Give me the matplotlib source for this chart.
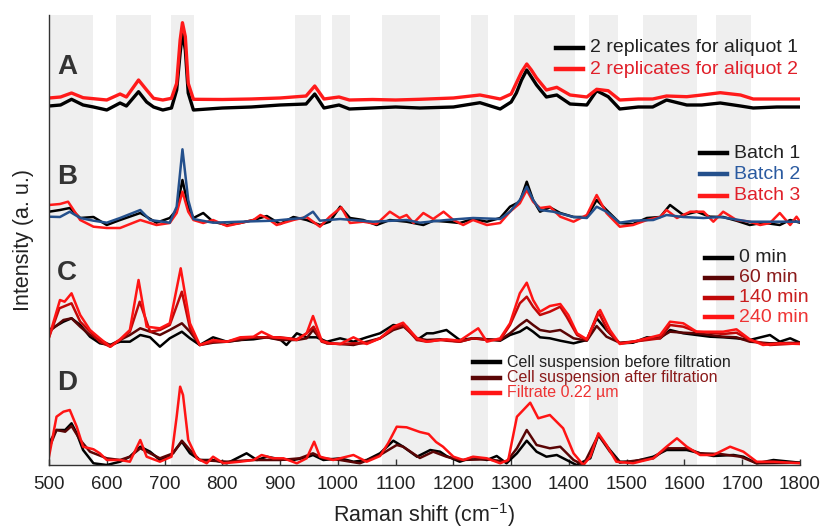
import numpy as np
import matplotlib
matplotlib.use('Agg')
import matplotlib.pyplot as plt
from matplotlib.lines import Line2D

plt.rcParams['font.family'] = ['Liberation Sans', 'DejaVu Sans']
plt.rcParams['mathtext.fontset'] = 'custom'
plt.rcParams['mathtext.rm'] = 'Liberation Sans'
plt.rcParams['mathtext.default'] = 'regular'

# grey marker bands (Raman shift, cm-1)
band_start = [500, 616, 711, 926, 990, 1076, 1230, 1305, 1435, 1529, 1655]
band_end = [577, 676, 751, 971, 1021, 1176, 1260, 1410, 1485, 1621, 1716]

# A: aliquot replicates
a_x = [500, 520, 539, 559, 577, 600, 623, 634, 655, 669, 681, 697, 712, 721, 727, 731, 736, 741, 750, 800,
       850, 900, 945, 960, 976, 1002, 1020, 1060, 1100, 1142, 1200, 1246, 1281, 1300, 1309, 1318, 1327, 1335, 1344, 1361,
       1379, 1402, 1431, 1448, 1468, 1488, 1520, 1545, 1569, 1604, 1630, 1662, 1697, 1719, 1760, 1800]
a_aliquot1 = [4, 5, 10.7, 5, 3, 0, 7, 4, 18.3, 8, 3, 0, 2, 20, 57, 78, 60, 17, 0, 2,
              3, 5, 6, 16, 2, 5, 1, 2, 3, 2, 3, 7.3, 1, 8, 17, 30, 40, 33, 25, 13,
              15, 6, 5, 19.3, 13.3, 1, 3, 3, 10, 5, 5, 7, 4, 2, 3, 3]
a_aliquot2 = [12, 13, 17, 12.3, 11.3, 10, 16, 13, 30, 20, 11.7, 10, 11.7, 26.7, 70, 87.3, 73.3, 26.7, 10.7, 10.5,
              11, 12, 14, 24, 11, 13, 10, 10.5, 10, 10.7, 12, 15, 11, 16, 27, 38, 46, 40, 32, 20,
              22.7, 15, 13, 20.7, 19.3, 10, 11, 11, 14, 13.3, 15, 17.3, 15, 11, 11, 11]

# B: batches
b1_x = [500, 519, 536, 554, 577, 600, 623, 658, 686, 709, 721, 731, 741, 750, 767, 784, 808, 831, 854, 877,
        900, 923, 946, 969, 986, 1004, 1021, 1044, 1067, 1090, 1119, 1148, 1165, 1188, 1211, 1234, 1258, 1281, 1298, 1315,
        1327, 1338, 1350, 1367, 1385, 1408, 1431, 1448, 1465, 1488, 1511, 1535, 1558, 1575, 1598, 1621, 1644, 1667, 1690, 1713,
        1736, 1765, 1783, 1800]
b1_y = [13.3, 15, 17, 7, 8, 0, 5, 12, 2.3, 7, 15, 45, 18.3, 7, 12, 3.3, 0, 2, 5, 9,
        1, 8, 5, 0, 3.3, 18.3, 7, 5, 0, 5, 3.3, 0, 4.3, 3.3, 2, 6, 3.3, 7, 18.3, 23.3,
        43.3, 25, 13.3, 17.7, 12, 8, 8, 25, 15, 2, 1, 7, 8, 20, 10, 13.3, 8.3, 8, 4.3, 0,
        2.3, 0, 5, 2.3]
b2_x = [500, 519, 536, 554, 577, 600, 623, 658, 675, 709, 721, 731, 741, 750, 784, 831, 888, 940, 957, 969,
        1004, 1061, 1119, 1142, 1188, 1234, 1281, 1298, 1315, 1327, 1338, 1350, 1373, 1408, 1431, 1448, 1465, 1488, 1511, 1546,
        1569, 1598, 1633, 1662, 1713, 1765, 1800]
b2_y = [8.3, 8, 13.3, 7, 4.3, 2.3, 7, 15, 5, 2.3, 18.3, 75.7, 25, 6, 2.3, 3.3, 4.3, 7, 13.3, 4.3,
        6, 3.3, 5, 2.3, 5, 7, 6, 13.3, 25, 38.3, 25, 15, 13.3, 8, 7, 18.3, 13.3, 2.3, 4.3, 5,
        10, 8, 7, 8, 3.3, 3.3, 3.3]
b3_x = [500, 519, 533, 554, 577, 600, 623, 658, 686, 709, 721, 731, 741, 750, 767, 784, 808, 831, 854, 866,
        877, 894, 923, 946, 969, 986, 1006, 1021, 1044, 1067, 1090, 1107, 1119, 1131, 1148, 1165, 1183, 1200, 1217, 1234,
        1258, 1281, 1298, 1315, 1327, 1338, 1350, 1367, 1385, 1408, 1431, 1448, 1465, 1488, 1511, 1535, 1558, 1569, 1587, 1610,
        1633, 1650, 1667, 1690, 1713, 1731, 1748, 1765, 1783, 1794, 1800]
b3_y = [20, 21, 23.3, 5, -1.7, -3, -3, 5, 0, 2, 12, 33.3, 13.3, 5, 2, 5, -1, 2, 5, 10,
        7, 0, 5, 8, -1.7, 8.3, 17.7, 2, 3.3, 1, 13.3, 7, 10, 2, 12, 6, 13.3, 5, 0, 5,
        0, 2, 13.3, 21.7, 35, 23.3, 17, 18.3, 8.3, 3.3, 10, 30, 12, -1.7, 0, 5, 8, 15, 7, 13.3,
        13.3, 3.3, 13.3, 5, 3.3, 0, 2, 12, 0, 8.3, 3.3]

# C: time course
c0_x = [500, 525, 539, 554, 571, 588, 606, 623, 640, 658, 675, 692, 709, 730, 744, 761, 784, 808, 831, 854,
        877, 900, 911, 929, 946, 963, 981, 1004, 1027, 1050, 1073, 1096, 1119, 1137, 1154, 1165, 1188, 1211, 1234, 1258,
        1281, 1298, 1315, 1327, 1338, 1350, 1367, 1385, 1408, 1431, 1448, 1465, 1488, 1511, 1535, 1558, 1575, 1598, 1621, 1644,
        1667, 1690, 1713, 1748, 1765, 1783, 1800]
c0_y = [15, 23.3, 26.7, 20, 8.3, 1.7, 0, 3.3, 3.3, 10, 7.7, -1.7, 6.7, 13.3, 6.7, 0, 7.7, 3.3, 5, 5.7,
        7.7, 5.7, 0, 11.7, 7.7, 7.7, 3.3, 6.7, 3.3, 7.7, 11.7, 20, 18.3, 5, 11.7, 11.7, 15, 5, 6.7, 5.7,
        4.3, 10, 13.3, 17.7, 13.3, 7.7, 6.7, 4.3, 1.7, 5, 26.7, 15, 1.7, 2.3, 7.7, 6.7, 15, 11.7, 10, 8.3,
        7.7, 6.7, 5, 10, 3.3, 6.7, 2.3]
c60_x = [500, 525, 539, 554, 571, 588, 606, 623, 640, 658, 675, 692, 709, 730, 744, 761, 784, 808, 831, 854,
         877, 900, 929, 946, 957, 969, 981, 1004, 1027, 1050, 1073, 1096, 1114, 1137, 1154, 1177, 1188, 1211, 1234, 1258,
         1281, 1298, 1315, 1327, 1338, 1350, 1367, 1385, 1408, 1431, 1448, 1465, 1488, 1511, 1535, 1558, 1575, 1598, 1621, 1644,
         1667, 1690, 1713, 1748, 1800]
c60_y = [13.3, 25, 26.7, 18.3, 10, 5, 0, 5, 10, 16.7, 13.3, 10, 15, 21.7, 13.3, 0, 2.3, 3.3, 5, 7.7,
         7.7, 5, 5, 6.7, 15, 6.7, 1.7, 1, 0, 3.3, 6.7, 15, 18.3, 6.7, 5, 5.7, 5, 3.3, 6.7, 5.7,
         5, 11.7, 20, 25, 20, 15, 13.3, 15, 6.7, 4.3, 19, 8.3, 2.3, 3.3, 5.7, 7.7, 13.3, 12.3, 11.7, 10,
         8.3, 7.7, 3.3, 1.7, 2.3]
c140_x = [500, 518, 539, 554, 571, 588, 606, 623, 640, 657, 675, 692, 709, 730, 744, 761, 784, 808, 831, 854,
          877, 900, 929, 946, 958, 972, 981, 1004, 1027, 1050, 1073, 1096, 1113, 1137, 1154, 1177, 1188, 1211, 1234, 1258,
          1281, 1298, 1315, 1327, 1338, 1350, 1367, 1385, 1396, 1414, 1431, 1451, 1468, 1488, 1511, 1535, 1558, 1575, 1598, 1621,
          1644, 1667, 1690, 1713, 1748, 1800]
c140_y = [7.7, 36.7, 41.7, 23.3, 13.3, 3.3, -1.7, 5, 13.3, 43.3, 13.3, 15, 20, 53.3, 16.7, 0, 3.3, 3.3, 6.7, 7.7,
          7.7, 7.7, 5.7, 11.7, 18.3, 3.3, 1.7, 1, 1.7, 1.7, 6.7, 16.7, 20, 5, 3.3, 5, 4.3, 3.3, 6.7, 5,
          5, 20, 41.7, 48.3, 38.3, 30, 33.3, 38.3, 28.3, 10, 5, 33.3, 13.3, 1.7, 3.3, 5, 6.7, 20, 18.3, 13.3,
          12.3, 11, 12.3, 5, 0, 1.7]
c240_x = [500, 519, 527, 539, 554, 571, 588, 606, 623, 640, 655, 669, 692, 709, 728, 744, 761, 784, 808, 831,
          854, 868, 888, 911, 929, 946, 957, 972, 986, 1004, 1027, 1050, 1073, 1096, 1113, 1137, 1154, 1177, 1188, 1211,
          1243, 1258, 1281, 1298, 1315, 1327, 1338, 1350, 1367, 1385, 1399, 1414, 1431, 1454, 1471, 1488, 1511, 1535, 1558, 1575,
          1598, 1621, 1644, 1667, 1690, 1713, 1736, 1765, 1800]
c240_y = [7.7, 45, 43.3, 51.7, 30, 15, 6.7, -1.7, 5.7, 15, 65, 18.3, 16.7, 21.7, 76.7, 21.7, 0, 5, 3.3, 7.7,
          8.3, 13.3, 7.7, 6.7, 5, 11.7, 29, 4.3, 1.7, 1, 7.7, 1, 6.7, 18.3, 22.3, 6.7, 3.3, 5, 5.7, 4.3,
          16.7, 3.3, 6.7, 21.7, 51.7, 62.3, 45, 33.3, 39, 41, 30, 11.7, 5.7, 35, 15, 1, 3.3, 6.7, 10, 23.3,
          21.7, 13.3, 13.3, 13.3, 15.7, 5.7, 0, 1.7, 1]

# D: filtration
d_before_x = [500, 513, 528, 539, 548, 559, 577, 600, 623, 640, 658, 675, 692, 709, 730, 744, 761, 784, 808, 825,
              842, 860, 877, 900, 923, 946, 957, 975, 1004, 1027, 1050, 1073, 1096, 1113, 1137, 1160, 1177, 1188, 1211, 1234,
              1258, 1275, 1292, 1310, 1327, 1344, 1361, 1379, 1396, 1413, 1437, 1451, 1471, 1488, 1511, 1546, 1569, 1604, 1627, 1650,
              1685, 1702, 1725, 1754, 1800]
d_before_y = [21.7, 35, 35, 41.7, 31.7, 15, 1.7, 0, 3.3, 8.3, 18.3, 13.3, 5, 8.3, 23.3, 11.7, 5, 5, 1.7, 6.7,
              11.7, 5, 8.3, 5.7, 5, 7.7, 10, 5, 6.7, 3.3, 5, 11.7, 24.3, 18.3, 8.3, 15, 13.3, 9, 3.3, 7.7,
              5, 9, 1.7, 11.7, 24.3, 13.3, 8.3, 10, 5, 0, 6.7, 30, 15, 3.3, 3.3, 8.3, 15, 15, 11.7, 9,
              10, 8.3, 1.7, 5, 2.3]
d_after_x = [500, 513, 528, 539, 554, 571, 600, 623, 640, 658, 675, 692, 715, 730, 744, 761, 808, 854, 900, 934,
             957, 975, 1004, 1038, 1073, 1102, 1113, 1142, 1165, 1188, 1211, 1258, 1292, 1310, 1327, 1344, 1367, 1385, 1408, 1425,
             1451, 1471, 1488, 1546, 1569, 1604, 1627, 1662, 1697, 1725, 1800]
d_after_y = [16.7, 35, 33.3, 39, 25, 13.3, 6.7, 5, 8.3, 16.7, 11.7, 6.7, 11.7, 24.3, 15, 5, 3.3, 5, 5, 6.7,
             11.7, 6.7, 5, 1.7, 10, 20, 18.3, 7, 13.3, 8.3, 5, 5.7, 3.3, 16.7, 35, 20, 16.7, 18.3, 5, 0,
             30, 13.3, 2.3, 6.7, 16.7, 16.7, 11.7, 11, 8.3, 1.7, 2.3]
d_filtrate_x = [500, 513, 525, 536, 548, 559, 577, 588, 600, 623, 640, 658, 669, 692, 712, 721, 727, 732, 741, 756,
                773, 784, 802, 831, 854, 868, 888, 906, 929, 946, 959, 969, 992, 1027, 1050, 1073, 1087, 1102, 1119, 1142,
                1157, 1170, 1182, 1200, 1217, 1234, 1258, 1281, 1295, 1310, 1333, 1347, 1367, 1390, 1408, 1425, 1437, 1451, 1465, 1482,
                1511, 1546, 1569, 1587, 1604, 1627, 1650, 1679, 1702, 1725, 1754, 1800]
d_filtrate_y = [8.3, 48.3, 53.3, 55, 38.3, 18.3, 15.7, 11.7, 5, 5, 3.3, 25, 8.3, 3.3, 8.3, 48.3, 78.3, 70, 25, 6.7,
                1.7, 8.3, 1.7, 3.3, 5, 10, 6.7, 6.7, 1.7, 6.7, 23.3, 8.3, 5, 10, 3.3, 9, 21.7, 38.3, 37.7, 33,
                31, 23, 18.3, 8.3, 5, 8.3, 6.7, 1.7, 5, 48.3, 62.3, 46.7, 50, 36.7, 11.7, 0, 8.3, 31.7, 20, 3.3,
                1.7, 6.7, 18.3, 26.7, 18.3, 10, 10, 18.3, 13.3, 3.3, 3.3, 1.7]

# vertical offset of each panel
off_a, off_b, off_c, off_d = 355, 240, 120, 0

fig = plt.figure(figsize=(8.25, 5.29), dpi=100)
ax = fig.add_axes([49/825, 64/529, 751/825, 450/529])
ax.set_xlim(500, 1800)
ax.set_ylim(0, 450)

for s, e in zip(band_start, band_end):
    ax.axvspan(s, e, color='#efefef', lw=0, zorder=0)

def trace(x, y, off, c, lw=1.8):
    ax.plot(x, np.array(y) + off, color=c, lw=lw, solid_joinstyle='round')

trace(a_x, a_aliquot1, off_a, '#000000', 2.4)
trace(a_x, a_aliquot2, off_a, '#ff1a1a', 2.4)

trace(b1_x, b1_y, off_b, '#000000')
trace(b3_x, b3_y, off_b, '#ff1a1a')
trace(b2_x, b2_y, off_b, '#24508c')

trace(c0_x, c0_y, off_c, '#000000')
trace(c60_x, c60_y, off_c, '#5a0505')
trace(c140_x, c140_y, off_c, '#c00808')
trace(c240_x, c240_y, off_c, '#ff1414')

trace(d_before_x, d_before_y, off_d, '#000000')
trace(d_after_x, d_after_y, off_d, '#5a0505')
trace(d_filtrate_x, d_filtrate_y, off_d, '#ff1414')

for sp in ['top', 'right']:
    ax.spines[sp].set_visible(False)
for sp in ['left', 'bottom']:
    ax.spines[sp].set_color('#333333')
    ax.spines[sp].set_linewidth(1)
ax.set_yticks([])
ax.set_xticks(np.arange(500, 1801, 100))
ax.tick_params(axis='x', direction='in', length=4, width=1, color='#333333',
               labelsize=13.5, labelcolor='#222222', pad=8)
ax.set_xlabel('Raman shift (cm$^{-1}$)', fontsize=15.5, color='#222222')
ax.xaxis.set_label_coords(0.5, -0.08)
ax.set_ylabel('Intensity (a. u.)', fontsize=15.5, color='#222222')
ax.yaxis.set_label_coords(-0.02, 0.5)

# panel letters
for letter, yy in zip(['A', 'B', 'C', 'D'], [67, 177, 273, 383]):
    fig.text(57/825, 1 - yy/529, letter, fontsize=20, fontweight='bold', color='#333333', va='center')

def legend(x0, y0, dy, labels, lcolors, tcolors, fs):
    for i, (lab, lc, tc) in enumerate(zip(labels, lcolors, tcolors)):
        fy = 1 - (y0 + i*dy)/529
        fig.add_artist(Line2D([x0/825, (x0 + 27)/825], [fy, fy], color=lc, lw=3.2))
        fig.text((x0 + 34)/825, fy, lab, color=tc, fontsize=fs, va='center')

legend(556, 48, 21, ['2 replicates for aliquot 1', '2 replicates for aliquot 2'],
       ['#000000', '#ff1a1a'], ['#222222', '#e0202a'], 14)
legend(700, 153, 21.5, ['Batch 1', 'Batch 2', 'Batch 3'],
       ['#000000', '#24508c', '#ff1a1a'], ['#222222', '#2a5aa0', '#e0202a'], 14)
legend(705, 258, 19.8, ['0 min', '60 min', '140 min', '240 min'],
       ['#000000', '#5a0505', '#c00808', '#ff1414'], ['#222222', '#8a1a1a', '#c81e1e', '#ee3434'], 14)
legend(473, 362, 15.5, ['Cell suspension before filtration', 'Cell suspension after filtration', 'Filtrate 0.22 µm'],
       ['#000000', '#5a0505', '#ff1414'], ['#222222', '#8a1a1a', '#ee3434'], 11.5)

fig.savefig('out.png', dpi=100)
